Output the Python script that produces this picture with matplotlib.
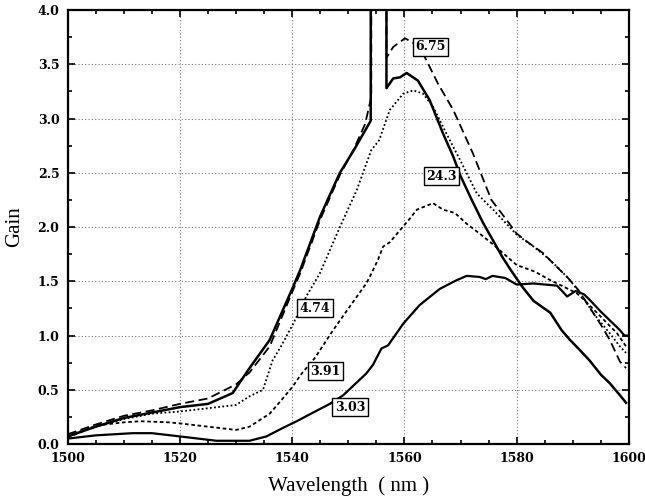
import numpy as np
import matplotlib
matplotlib.use('Agg')
import matplotlib.pyplot as plt
from matplotlib.ticker import MultipleLocator

# Gain spectra for each pump level (wavelength in nm, gain)
wl_243 = [1500, 1505, 1510, 1515, 1520, 1525, 1529.4, 1532.4, 1536, 1540, 1541.4, 1545, 1548.5, 1551,
          1554, 1554, 1556.8, 1556.8, 1558, 1559.2, 1560.4, 1562.4, 1564.5, 1566.9, 1568.7, 1570, 1572,
          1574, 1577.5, 1579, 1581, 1583, 1586, 1588, 1589.5, 1591, 1593, 1595, 1596.6, 1598.4, 1599.5]
g_243 = [0.07, 0.16, 0.24, 0.29, 0.34, 0.37, 0.47, 0.70, 0.96, 1.43, 1.60, 2.10, 2.50, 2.71,
         2.98, 4.5, 4.5, 3.28, 3.37, 3.38, 3.42, 3.35, 3.17, 2.86, 2.65, 2.47, 2.25,
         2.04, 1.72, 1.60, 1.45, 1.32, 1.21, 1.05, 0.96, 0.88, 0.77, 0.64, 0.56, 0.45, 0.38]

wl_675 = [1500, 1505, 1510, 1515, 1520, 1525, 1530, 1532.4, 1536, 1540, 1541.4, 1545, 1548.5, 1551,
          1553, 1554.1, 1554.1, 1556.8, 1556.8, 1558, 1560.1, 1561.5, 1563.6, 1566, 1568.7, 1572.2,
          1575.5, 1578, 1580, 1582, 1584.7, 1587, 1589, 1591, 1593, 1595, 1596.6, 1598.4, 1599.5]
g_675 = [0.09, 0.18, 0.26, 0.31, 0.37, 0.42, 0.55, 0.66, 0.90, 1.40, 1.57, 2.07, 2.48, 2.72,
         2.95, 3.20, 4.5, 4.5, 3.56, 3.66, 3.74, 3.70, 3.57, 3.32, 3.08, 2.68,
         2.25, 2.08, 1.94, 1.86, 1.76, 1.64, 1.54, 1.42, 1.26, 1.10, 0.96, 0.76, 0.70]

wl_474 = [1500, 1505, 1510, 1515, 1520, 1525, 1530, 1532.4, 1534.8, 1536.5, 1538, 1540.1, 1542.5,
          1544.9, 1548.5, 1551.5, 1554.1, 1555.5, 1557.4, 1559.8, 1561.6, 1563.3, 1565.1, 1567.5,
          1569.9, 1572.9, 1576, 1580, 1583, 1585.4, 1587.5, 1589.5, 1591.5, 1593.6, 1595, 1596.6,
          1598.4, 1599.5]
g_474 = [0.08, 0.16, 0.23, 0.28, 0.30, 0.33, 0.36, 0.44, 0.50, 0.77, 0.90, 1.10, 1.36,
         1.57, 2.00, 2.34, 2.71, 2.80, 3.08, 3.23, 3.26, 3.23, 3.11, 2.86,
         2.62, 2.31, 2.15, 1.93, 1.82, 1.72, 1.62, 1.51, 1.38, 1.21, 1.12, 1.02,
         0.90, 0.84]

wl_391 = [1500, 1505, 1510, 1513, 1518, 1520, 1525, 1530, 1532.4, 1534.2, 1536, 1538, 1540.1, 1541.7,
          1544, 1547.3, 1550.3, 1553.2, 1554.1, 1555.3, 1556.2, 1557.4, 1559.2, 1561, 1562.2, 1565.1,
          1566.9, 1569, 1571.1, 1573.4, 1575.8, 1580, 1583.2, 1586, 1588, 1590.7, 1592, 1594.3, 1596,
          1597.9, 1599.5]
g_391 = [0.06, 0.17, 0.20, 0.21, 0.20, 0.19, 0.16, 0.13, 0.16, 0.22, 0.28, 0.40, 0.53, 0.65,
         0.79, 1.05, 1.27, 1.48, 1.57, 1.70, 1.82, 1.86, 1.97, 2.08, 2.16, 2.22,
         2.16, 2.13, 2.03, 1.94, 1.84, 1.65, 1.59, 1.51, 1.46, 1.39, 1.33, 1.21, 1.12,
         1.02, 0.90]

wl_303 = [1500, 1505, 1511.6, 1515, 1520, 1526.5, 1532.4, 1535.4, 1538.4, 1540.8, 1543, 1546.7, 1549.1,
          1553.2, 1554.4, 1555.9, 1557.1, 1559.8, 1562.7, 1566.3, 1569.3, 1571.1, 1573.4, 1574.5,
          1575.7, 1578, 1580, 1583, 1587.2, 1589, 1590.5, 1592, 1593, 1595, 1596.6, 1598.4, 1599.2, 1600]
g_303 = [0.05, 0.08, 0.10, 0.10, 0.07, 0.03, 0.03, 0.07, 0.15, 0.21, 0.27, 0.37, 0.45,
         0.65, 0.73, 0.88, 0.91, 1.11, 1.28, 1.43, 1.51, 1.55, 1.54, 1.52,
         1.55, 1.53, 1.47, 1.48, 1.46, 1.36, 1.41, 1.38, 1.33, 1.22, 1.14, 1.05, 1.00, 1.00]

# label text and where its box sits (wavelength, gain)
labels = ['6.75', '24.3', '4.74', '3.91', '3.03']
label_x = [1564.7, 1566.6, 1544.1, 1545.9, 1550.3]
label_y = [3.66, 2.47, 1.25, 0.67, 0.34]

fig = plt.figure(figsize=(6.45, 5.04), dpi=100)
ax = fig.add_axes([0.105, 0.119, 0.870, 0.861])

ax.plot(wl_243, g_243, color='black', lw=1.8, ls='-')
ax.plot(wl_675, g_675, color='black', lw=1.3, ls=(0, (5, 2.5)))
ax.plot(wl_474, g_474, color='black', lw=1.3, ls=(0, (1, 1.3)))
ax.plot(wl_391, g_391, color='black', lw=1.3, ls=(0, (2, 1.5)))
ax.plot(wl_303, g_303, color='black', lw=1.6, ls='-')

for t, x, y in zip(labels, label_x, label_y):
    ax.text(x, y, t, ha='center', va='center', fontsize=9, family='DejaVu Serif',
            weight='bold',
            bbox=dict(boxstyle='square,pad=0.2', fc='white', ec='black', lw=1.0))

ax.set_xlim(1500, 1600)
ax.set_ylim(0, 4.0)
ax.xaxis.set_major_locator(MultipleLocator(20))
ax.xaxis.set_minor_locator(MultipleLocator(5))
ax.yaxis.set_minor_locator(MultipleLocator(0.25))
ax.set_yticks(np.arange(0, 4.01, 0.5))
ax.set_yticklabels([f'{v:.1f}' for v in np.arange(0, 4.01, 0.5)])

ax.tick_params(which='both', direction='in', top=True, right=True, width=1.2)
ax.tick_params(which='major', length=5, pad=6, labelsize=9)
ax.tick_params(which='minor', length=3)
for lab in ax.get_xticklabels() + ax.get_yticklabels():
    lab.set_family('DejaVu Serif')
    lab.set_weight('bold')

ax.grid(True, which='major', color='#777777', ls=(0, (1, 2)), lw=0.8)
for s in ax.spines.values():
    s.set_linewidth(1.6)

ax.set_xlabel('Wavelength  ( nm )', fontsize=15, family='Liberation Serif')
ax.set_ylabel('Gain', fontsize=15, family='Liberation Serif')
ax.xaxis.set_label_coords(0.5, -0.075)
ax.yaxis.set_label_coords(-0.078, 0.5)

fig.savefig('out.png', dpi=100)
